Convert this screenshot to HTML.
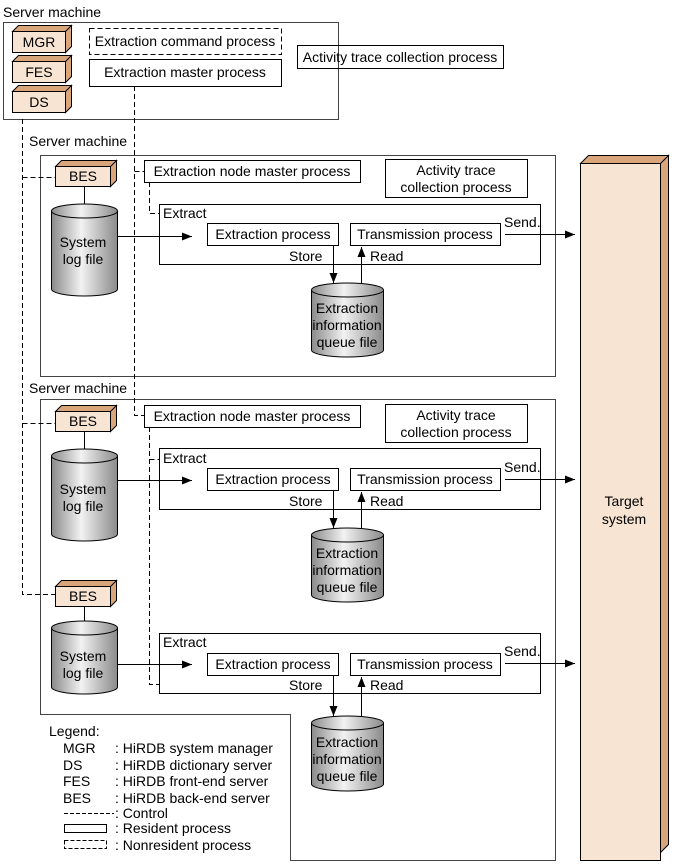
<!DOCTYPE html>
<html><head><meta charset="utf-8"><style>
body{margin:0;background:#fff}
svg{display:block;font-family:"Liberation Sans",Arial,sans-serif}
text{font-size:14px;fill:#000}
</style></head><body>
<svg width="680" height="864" viewBox="0 0 680 864">
<defs>
<linearGradient id="cg" x1="0" x2="1" y1="0" y2="0">
<stop offset="0" stop-color="#8a8a8a"/><stop offset="0.45" stop-color="#f2f2f2"/><stop offset="1" stop-color="#8a8a8a"/>
</linearGradient>
<marker id="ah" markerWidth="10" markerHeight="8" refX="10" refY="4" orient="auto" markerUnits="userSpaceOnUse"><path d="M0,0 L10,4 L0,8z" fill="#000"/></marker>
</defs>
<g fill="none" stroke="#000" stroke-width="1">
<rect x="3.5" y="22.5" width="335" height="97" stroke="#444"/>
<rect x="40.5" y="155.5" width="515" height="221" stroke="#444"/>
<path d="M40.5,399.5 H555.5 V860.5 H290.5 V714.5 H40.5 Z" stroke="#444"/>
<g stroke-dasharray="5,3">
<path d="M22.5,119 V594.5 H55"/>
<path d="M22.5,177.5 H55"/>
<path d="M22.5,423.5 H55"/>
<path d="M134.5,86 V415.5 H144"/>
<path d="M134.5,171.5 H144"/>
<path d="M149.5,182 V213.5 H159"/>
<path d="M149.5,427 V684.5 H159"/>
<path d="M149.5,459.5 H159"/>
<rect x="89.5" y="28.5" width="192" height="26"/>
</g>
<rect x="89.5" y="59.5" width="192" height="27"/>
<rect x="297.5" y="45.5" width="206" height="23"/>
<rect x="144.5" y="160.5" width="216" height="22"/>
<rect x="385.5" y="159.5" width="142" height="38"/>
<rect x="159.5" y="204.5" width="381" height="60"/>
<rect x="207.5" y="223.5" width="131" height="22"/>
<rect x="350.5" y="223.5" width="150" height="22"/>
<rect x="144.5" y="405.5" width="216" height="22"/>
<rect x="385.5" y="404.5" width="142" height="38"/>
<rect x="159.5" y="448.5" width="381" height="61"/>
<rect x="207.5" y="468.5" width="131" height="22"/>
<rect x="350.5" y="468.5" width="150" height="22"/>
<rect x="159.5" y="633.5" width="381" height="60"/>
<rect x="207.5" y="653.5" width="131" height="22"/>
<rect x="350.5" y="653.5" width="150" height="22"/>
<g marker-end="url(#ah)">
<path d="M118,236.5 H192"/><path d="M505,234.5 H575"/>
<path d="M333.5,245 V283"/><path d="M361.5,283 V247"/>
<path d="M118,480.5 H192"/><path d="M505,479.5 H575"/>
<path d="M333.5,490 V528"/><path d="M361.5,528 V492"/>
<path d="M118,664.5 H192"/><path d="M505,663.5 H575"/>
<path d="M333.5,675 V716"/><path d="M361.5,716 V677"/>
</g>
<path d="M84.5,186 V205"/><path d="M84.5,431 V450"/><path d="M84.5,606 V622"/>
</g>
<g stroke="#000" stroke-width="1">
<path d="M12.5,31.5 l6,-6 h53 l-6,6z M65.5,31.5 l6,-6 v21 l-6,6z" fill="#d9a57a"/>
<rect x="12.5" y="31.5" width="53" height="21" fill="#f7e4d2"/>
<path d="M12.5,61.5 l6,-6 h53 l-6,6z M65.5,61.5 l6,-6 v21 l-6,6z" fill="#d9a57a"/>
<rect x="12.5" y="61.5" width="53" height="21" fill="#f7e4d2"/>
<path d="M12.5,91.5 l6,-6 h53 l-6,6z M65.5,91.5 l6,-6 v21 l-6,6z" fill="#d9a57a"/>
<rect x="12.5" y="91.5" width="53" height="21" fill="#f7e4d2"/>
<path d="M55.5,166.5 l6,-6 h55 l-6,6z M110.5,166.5 l6,-6 v20 l-6,6z" fill="#d9a57a"/>
<rect x="55.5" y="166.5" width="55" height="20" fill="#f7e4d2"/>
<path d="M55.5,411.5 l6,-6 h55 l-6,6z M110.5,411.5 l6,-6 v20 l-6,6z" fill="#d9a57a"/>
<rect x="55.5" y="411.5" width="55" height="20" fill="#f7e4d2"/>
<path d="M55.5,586.5 l6,-6 h55 l-6,6z M110.5,586.5 l6,-6 v20 l-6,6z" fill="#d9a57a"/>
<rect x="55.5" y="586.5" width="55" height="20" fill="#f7e4d2"/>
<path d="M580.5,163.5 l8,-8 h80 l-8,8z M660.5,163.5 l8,-8 v689 l-8,8z" fill="#d9a57a"/>
<rect x="580.5" y="163.5" width="80" height="697" fill="#f7e4d2"/>
</g>
<g stroke="#000" fill="url(#cg)">
<path d="M51.5,211 V289 A33,7 0 0 0 117.5,289 V211"/><ellipse cx="84.5" cy="211" rx="33" ry="7"/>
<path d="M51.5,456 V534 A33,7 0 0 0 117.5,534 V456"/><ellipse cx="84.5" cy="456" rx="33" ry="7"/>
<path d="M51.5,628 V687 A33,7 0 0 0 117.5,687 V628"/><ellipse cx="84.5" cy="628" rx="33" ry="7"/>
<path d="M311.5,290 V350 A36,7 0 0 0 383.5,350 V290"/><ellipse cx="347.5" cy="290" rx="36" ry="7"/>
<path d="M311.5,535 V595 A36,7 0 0 0 383.5,595 V535"/><ellipse cx="347.5" cy="535" rx="36" ry="7"/>
<path d="M311.5,723 V784 A36,7 0 0 0 383.5,784 V723"/><ellipse cx="347.5" cy="723" rx="36" ry="7"/>
</g>
<text x="3" y="17">Server machine</text>
<text x="29" y="146">Server machine</text>
<text x="29" y="393">Server machine</text>
<g text-anchor="middle">
<text x="39" y="47">MGR</text><text x="39" y="77">FES</text><text x="39" y="107">DS</text>
<text x="83" y="181">BES</text><text x="83" y="426">BES</text><text x="83" y="601">BES</text>
<text x="185" y="46">Extraction command process</text>
<text x="185" y="77">Extraction master process</text>
<text x="400" y="62">Activity trace collection process</text>
<text x="252" y="176">Extraction node master process</text>
<text x="252" y="421">Extraction node master process</text>
<text x="456" y="175">Activity trace</text><text x="456" y="192">collection process</text>
<text x="456" y="420">Activity trace</text><text x="456" y="437">collection process</text>
<text x="273" y="239">Extraction process</text><text x="425" y="239">Transmission process</text>
<text x="273" y="484">Extraction process</text><text x="425" y="484">Transmission process</text>
<text x="273" y="669">Extraction process</text><text x="425" y="669">Transmission process</text>
<text x="83" y="247">System</text><text x="83" y="264">log file</text>
<text x="83" y="494">System</text><text x="83" y="511">log file</text>
<text x="83" y="661">System</text><text x="83" y="678">log file</text>
<text x="347" y="313">Extraction</text><text x="347" y="330">information</text><text x="347" y="347">queue file</text>
<text x="347" y="558">Extraction</text><text x="347" y="575">information</text><text x="347" y="592">queue file</text>
<text x="347" y="747">Extraction</text><text x="347" y="764">information</text><text x="347" y="781">queue file</text>
<text x="624" y="506">Target</text><text x="624" y="524">system</text>
</g>
<text x="163" y="218">Extract</text><text x="163" y="463">Extract</text><text x="163" y="647">Extract</text>
<text x="289" y="261">Store</text><text x="370" y="261">Read</text>
<text x="289" y="506">Store</text><text x="370" y="506">Read</text>
<text x="289" y="690">Store</text><text x="370" y="690">Read</text>
<text x="504" y="227">Send.</text><text x="504" y="472">Send.</text><text x="504" y="656">Send.</text>
<text x="49" y="736">Legend:</text>
<text x="63" y="753">MGR</text><text x="115" y="753">: HiRDB system manager</text>
<text x="63" y="770">DS</text><text x="115" y="770">: HiRDB dictionary server</text>
<text x="63" y="786">FES</text><text x="115" y="786">: HiRDB front-end server</text>
<text x="63" y="803">BES</text><text x="115" y="803">: HiRDB back-end server</text>
<text x="115" y="818">: Control</text>
<text x="115" y="833">: Resident process</text>
<text x="115" y="850">: Nonresident process</text>
<g fill="none" stroke="#000">
<path d="M64,813.5 H114" stroke-dasharray="4,2"/>
<rect x="64.5" y="824.5" width="42" height="8"/>
<rect x="64.5" y="840.5" width="42" height="8" stroke-dasharray="4,2"/>
</g>
</svg>
</body></html>
